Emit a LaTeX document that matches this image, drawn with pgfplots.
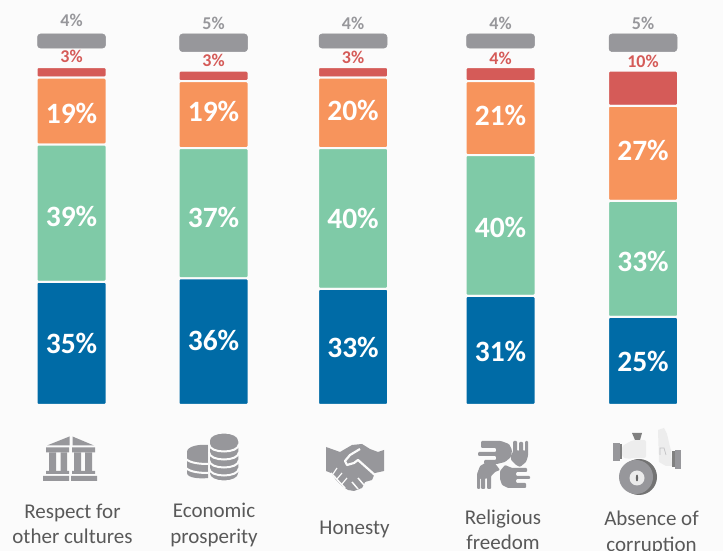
\documentclass[border=0pt]{standalone}
\usepackage{pgfplots}
\pgfplotsset{compat=1.18}
\usepackage{pgfplotstable}
\usepackage{fontspec}
\setmainfont{Carlito}
\definecolor{bg}{HTML}{FBFBFB}
\definecolor{cblue}{HTML}{006BA6}
\definecolor{cgreen}{HTML}{7FCAA7}
\definecolor{corange}{HTML}{F7945C}
\definecolor{cred}{HTML}{D55B58}
\definecolor{cgray}{HTML}{97979B}
\definecolor{ctext}{HTML}{595959}
\pgfplotstableread{
x   blue green orange red gap gry redup grayup bd gd od
71.5  35 39 19 3  5.4 4 11 13.5 0 -3 -2
213.5 36 37 19 3  5.4 5 10 11   1 -4 3
353   33 40 20 3  5.4 4 10 11  -1 0 2
500.5 31 40 21 4  5.4 4 9 11   -1 -2 3
643   25 33 27 10 5.4 5 9 11    0 -3 3
}\datatable
\begin{document}
\begin{tikzpicture}[x=1pt,y=1pt]
\useasboundingbox (0,0) rectangle (723,551);
\fill[bg] (0,0) rectangle (723,551);
\begin{axis}[
  at={(0,0)},anchor=south west,
  scale only axis,width=723pt,height=551pt,
  xmin=0,xmax=723,ymin=-41.48,ymax=115.06,
  axis line style={draw=none},ticks=none,
  ybar stacked,bar width=70pt,
  clip=false,
  point meta=explicit,
  /pgf/number format/assume math mode=true,
  nodes near coords={\pgfmathprintnumber{\pgfplotspointmeta}\%},
]
\pgfplotsset{inlab/.style={
  visualization depends on={\thisrow{#1} \as \vd},
  every node near coord/.append style={anchor=center,text=white,
    font=\bfseries\fontsize{29.5}{29.5}\selectfont,yshift=\vd pt}}}
\addplot[fill=cblue,draw=bg,line width=2pt,rounded corners=1.5pt,inlab=bd] table[x=x,y=blue,meta=blue]{\datatable};
\addplot[fill=cgreen,draw=bg,line width=2pt,rounded corners=1.5pt,inlab=gd] table[x=x,y=green,meta=green]{\datatable};
\addplot[fill=corange,draw=bg,line width=2pt,rounded corners=1.5pt,inlab=od] table[x=x,y=orange,meta=orange]{\datatable};
\addplot[fill=cred,draw=bg,line width=2pt,rounded corners=1.5pt,
  visualization depends on={rawy \as \vv},
  visualization depends on={\thisrow{redup} \as \vu},
  every node near coord/.append style={anchor=center,text=cred,
    font=\bfseries\fontsize{18}{18}\selectfont,yshift=\vu pt+1.76*\vv pt}] table[x=x,y=red,meta=red]{\datatable};
\addplot[fill=none,draw=none,nodes near coords={}] table[x=x,y=gap,meta=gap]{\datatable};
\addplot[fill=cgray,draw=cgray,line width=0.5pt,rounded corners=3pt,bar width=68pt,
  visualization depends on={rawy \as \vv},
  visualization depends on={\thisrow{grayup} \as \vu},
  every node near coord/.append style={anchor=center,text=cgray,
    font=\bfseries\fontsize{18}{18}\selectfont,yshift=\vu pt+1.76*\vv pt}] table[x=x,y=gry,meta=gry]{\datatable};
\end{axis}
\begin{scope}[shift={(0,551)},y=-1pt,x=1pt]
\tikzset{lab/.style={text=ctext,font=\fontsize{21}{25.5}\selectfont,align=center,anchor=center}}
\node[lab] at (72.5,524) {Respect for\\other cultures};
\node[lab] at (214,525) {Economic\\prosperity};
\node[lab] at (354.5,529) {Honesty};
\node[lab] at (503,530) {Religious\\freedom};
\node[lab] at (651.5,533) {Absence of\\corruption};
\begin{scope}[shift={(0,400)}]
% temple
\fill[cgray] (47,45.5)--(69.5,36.5)--(69.5,45.5)--cycle (72.5,36.5)--(94,45.5)--(72.5,45.5)--cycle;
\fill[cgray] (46,47.5)rectangle(69,52.5) (72,47.5)rectangle(95,52.5);
\fill[cgray] (49,52.5)rectangle(56,71) (60.5,52.5)rectangle(67,71) (74,52.5)rectangle(81,71) (85,52.5)rectangle(92,71);
\fill[cgray] (46,71)rectangle(69,74) (72,71)rectangle(95,74);
\fill[cgray] (43,76)rectangle(69,81) (71,76)rectangle(97,81);
% coins
\fill[cgray] (187,52)--(187,73) .. controls (187,78) and (200,79) .. (208,78) -- (208,45) .. controls (200,44) and (187,46) .. (187,52)--cycle;
\foreach \yy in {59,68}{\draw[bg,line width=2pt] (186,\yy) .. controls (190,\yy+4) and (200,\yy+5) .. (208,\yy+5);}
\fill[cgray,draw=bg,line width=1.5pt] (209,41) -- (209,73) .. controls (209,84) and (239,84) .. (239,73) -- (239,41) .. controls (239,30) and (209,30) .. (209,41)--cycle;
\foreach \yy in {44,52,60,68}{\draw[bg,line width=2pt] (209,\yy) .. controls (209,\yy+10) and (239,\yy+10) .. (239,\yy);}
% handshake
\fill[cgray] (326,47)--(340,52)--(352,45)--(362,44)--(370,49)--(378,52)--(384,50)--(384,71)--(375,73)--(372,80)--(365,82)--(362,88)--(354,91)--(348,90)--(342,86)--(336,80)--(331,73)--(326,71)--cycle;
\draw[bg,line width=2.2pt,line join=round] (360,49)--(350,55)--(345,61)--(347,65)--(354,63)--(358,60)--(376,76);
\draw[bg,line width=1.5pt] (331,73)--(345,88) (358,78)--(364,85) (352,82)--(358,89);
\draw[bg,line width=1.2pt] (337,68)--(333,74) (342,73)--(337,79) (347,78)--(342,84);
% hands
\fill[cgray,rounded corners=1pt]
 (481,41)--(501,41)--(509,44)--(512,50)--(511,57)--(505,62)--(497,64)--(484,64)--(484,60)--(496,60)--(496,56)--(478,56)--(478,52)--(496,52)--(496,48)--(481,48)--(481,45)--cycle;
\fill[cgray,rounded corners=1pt]
 (516,65)--(511,60)--(511,55)--(513,52)--(513,41)--(517,41)--(517,51)--(519,51)--(519,42)--(523,42)--(523,51)--(525,51)--(525,41)--(528,41)--(528,56)--(526,62)--(520,67)--cycle;
\fill[cgray,rounded corners=1pt]
 (477,89)--(477,74)--(480,66)--(487,62)--(493,61)--(497,66)--(500,70)--(495,72)--(491,76)--(491,89)--(487,89)--(487,78)--(485,78)--(485,89)--(481,89)--(481,78)--(480,78)--(480,89)--cycle;
\fill[cgray,rounded corners=1pt]
 (505,65)--(512,68)--(527,68)--(527,72)--(516,72)--(516,76)--(530,76)--(530,79)--(516,79)--(516,83)--(526,83)--(526,88)--(508,88)--(502,85)--(500,79)--(500,71)--cycle;
% corruption: hands, bag, coin
\fill[cgray] (613,43)rectangle(620,61);
\fill[black!50] (620,44)rectangle(622,59);
\fill[black!7,rounded corners=2pt] (622,46)--(633,40)--(646,40)--(646,58)--(634,58)--(628,59)--(622,57)--cycle;
\fill[black!50] (632,33)--(642,33)--(640,40)--(635,40)--cycle;
\fill[black!7] (658,30)--(664,28)--(667,34)--(670,47)--(671,50)--(672,66)--(666,66)--(659,62)--cycle;
\draw[cgray!60,line width=0.7pt] (660,55)--(660,48)--(664,48)--(666,55);
\fill[cgray] (675,50)rectangle(681,69);
\fill[black!50] (672,51)rectangle(675,67);
\fill[black!55] (639,77) circle[x radius=18,y radius=18];
\fill[cgray] (636,77) circle[radius=17];
\fill[black!8] (637,78) circle[radius=7.5];
\fill[black!60] (637,78) circle[x radius=1.2,y radius=3.5];
\end{scope}
\end{scope}
\end{tikzpicture}
\end{document}
